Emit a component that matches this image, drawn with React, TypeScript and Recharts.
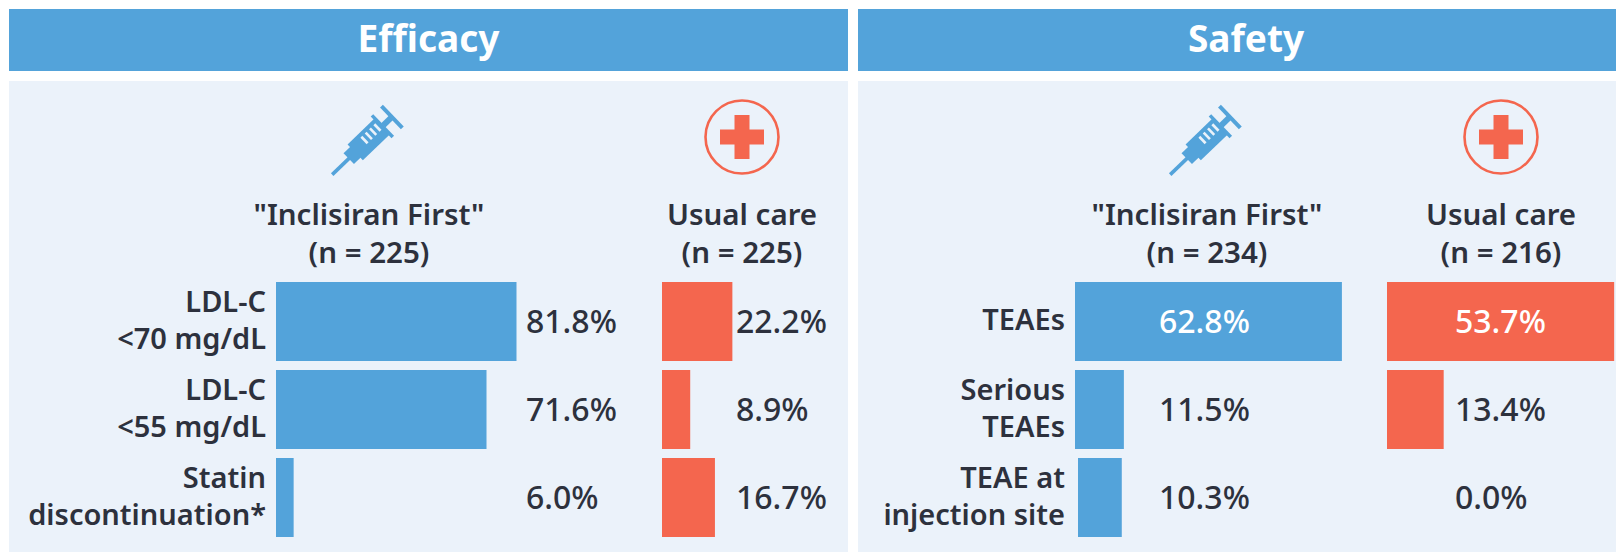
import { Bar, BarChart, LabelList, XAxis, YAxis } from 'recharts'

const efficacyLabels = ['LDL-C\n<70 mg/dL', 'LDL-C\n<55 mg/dL', 'Statin\ndiscontinuation*']
const efficacyInclisiran = [81.8, 71.6, 6.0]
const efficacyUsualCare = [22.2, 8.9, 16.7]

const safetyLabels = ['TEAEs', 'Serious\nTEAEs', 'TEAE at\ninjection site']
const safetyInclisiran = [62.8, 11.5, 10.3]
const safetyUsualCare = [53.7, 13.4, 0.0]

const BLUE = '#53a3da'
const RED = '#f4664e'
const PANEL = '#ebf2fa'
const INK = '#2d313d'
const FONT = '"Noto Sans", sans-serif'

const CHART_TOP = 276.5
const CHART_HEIGHT = 264

function CategoryTick({ x, y, payload }: any) {
  const lines = String(payload.value).split('\n')
  const first = y + 9 - ((lines.length - 1) * 37) / 2
  return (
    <text textAnchor="end" fontFamily={FONT} fontSize={29} fontWeight={600} fill={INK}>
      {lines.map((line, i) => (
        <tspan key={line} x={x} y={first + i * 37}>{line}</tspan>
      ))}
    </text>
  )
}

function ArmChart({ labels, values, color, left, barStart, pxPerPercent, labelOffset, whiteFirst, showAxis, shiftLast }: any) {
  const data = labels.map((label: string, i: number) => ({ label, value: values[i] }))
  const plotWidth = pxPerPercent * 100
  const axisWidth = barStart - left

  const renderValue = ({ x, y, height, value, index }: any) => (
    <text
      x={x + labelOffset}
      y={y + height / 2 + 11}
      fontFamily={FONT}
      fontSize={32}
      fontWeight={500}
      fill={whiteFirst && index === 0 ? '#ffffff' : INK}
    >
      {Number(value).toFixed(1)}%
    </text>
  )

  // the last safety bar sits a few pixels in from the others in the original
  const renderBar = ({ x, y, width, height, index }: any) => (
    <rect x={shiftLast && index === 2 ? x + 3 : x} y={y} width={width} height={height} fill={color} />
  )

  return (
    <BarChart
      layout="vertical"
      data={data}
      width={axisWidth + plotWidth + 130}
      height={CHART_HEIGHT}
      margin={{ top: 0, right: 130, bottom: 0, left: 0 }}
      barCategoryGap={0}
      style={{ position: 'absolute', left, top: CHART_TOP }}
    >
      <XAxis type="number" domain={[0, 100]} hide />
      <YAxis
        type="category"
        dataKey="label"
        width={axisWidth}
        hide={!showAxis}
        axisLine={false}
        tickLine={false}
        tickSize={0}
        tickMargin={10}
        interval={0}
        tick={CategoryTick}
      />
      <Bar dataKey="value" barSize={79} fill={color} shape={renderBar} isAnimationActive={false}>
        <LabelList dataKey="value" content={renderValue} />
      </Bar>
    </BarChart>
  )
}

function Syringe({ left, top }: { left: number; top: number }) {
  return (
    <svg width={104} height={104} viewBox="-52 -52 104 104" style={{ position: 'absolute', left, top }}>
      <g transform="rotate(-44)" fill={BLUE}>
        <rect x={-47} y={-1.8} width={26} height={3.6} />
        <rect x={-24} y={-7.5} width={12} height={15} />
        <rect x={-15} y={-11} width={37} height={22} />
        <rect x={21} y={-15} width={3.5} height={30} />
        <rect x={24} y={-3} width={11} height={6} />
        <rect x={34} y={-15} width={4} height={30} />
        <g fill={PANEL}>
          <rect x={-1} y={-7} width={2.6} height={9} />
          <rect x={5} y={-7} width={2.6} height={9} />
          <rect x={11} y={-7} width={2.6} height={9} />
          <rect x={17} y={-7} width={2.6} height={9} />
        </g>
      </g>
    </svg>
  )
}

function CareIcon({ center }: { center: number }) {
  return (
    <svg width={80} height={80} viewBox="-40 -40 80 80" style={{ position: 'absolute', left: center - 40, top: 97 }}>
      <circle r={36.5} fill="none" stroke={RED} strokeWidth={2.6} />
      <rect x={-22} y={-7.5} width={44} height={15} fill={RED} />
      <rect x={-7.5} y={-22} width={15} height={44} fill={RED} />
    </svg>
  )
}

function ArmHeading({ center, name, n }: { center: number; name: string; n: number }) {
  return (
    <div
      style={{
        position: 'absolute',
        left: center - 160,
        top: 195,
        width: 320,
        textAlign: 'center',
        fontFamily: FONT,
        fontSize: 29.5,
        fontWeight: 600,
        lineHeight: '38px',
        color: INK,
      }}
    >
      {name}
      <br />
      (n = {n})
    </div>
  )
}

function PanelFrame({ left, width, title }: { left: number; width: number; title: string }) {
  return (
    <>
      <div
        style={{
          position: 'absolute',
          left,
          top: 9,
          width,
          height: 62,
          lineHeight: '58px',
          background: BLUE,
          color: '#ffffff',
          textAlign: 'center',
          fontFamily: FONT,
          fontSize: 37,
          fontWeight: 700,
        }}
      >
        {title}
      </div>
      <div style={{ position: 'absolute', left, top: 81, width, height: 471, background: PANEL }} />
    </>
  )
}

export default function App() {
  return (
    <div style={{ position: 'absolute', left: 0, top: 0, width: 1616, height: 552, overflow: 'hidden', background: '#ffffff' }}>
      <PanelFrame left={9} width={839} title="Efficacy" />
      <PanelFrame left={858} width={776} title="Safety" />

      <Syringe left={314} top={90} />
      <CareIcon center={742} />
      <ArmHeading center={369} name={'"Inclisiran First"'} n={225} />
      <ArmHeading center={742} name="Usual care" n={225} />

      <Syringe left={1152} top={90} />
      <CareIcon center={1501} />
      <ArmHeading center={1207} name={'"Inclisiran First"'} n={234} />
      <ArmHeading center={1501} name="Usual care" n={216} />

      <ArmChart labels={efficacyLabels} values={efficacyInclisiran} color={BLUE} left={9} barStart={276} pxPerPercent={2.94} labelOffset={250} showAxis />
      <ArmChart labels={efficacyLabels} values={efficacyUsualCare} color={RED} left={662} barStart={662} pxPerPercent={3.17} labelOffset={74} />
      <ArmChart labels={safetyLabels} values={safetyInclisiran} color={BLUE} left={858} barStart={1075} pxPerPercent={4.25} labelOffset={84} whiteFirst showAxis shiftLast />
      <ArmChart labels={safetyLabels} values={safetyUsualCare} color={RED} left={1387} barStart={1387} pxPerPercent={4.23} labelOffset={68} whiteFirst />
    </div>
  )
}
